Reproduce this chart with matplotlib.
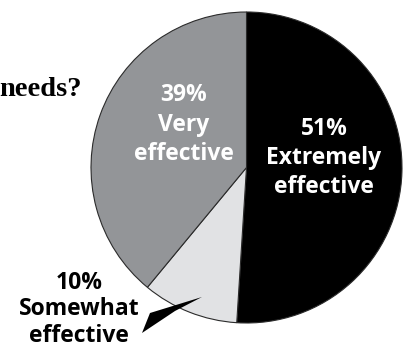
import matplotlib.pyplot as plt
from matplotlib.patches import Polygon

# pie data, clockwise from the top
labels = ["Extremely\neffective", "Somewhat\neffective", "Very\neffective"]
values = [51, 10, 39]
colors = ["#000000", "#e1e2e4", "#939598"]
text_colors = ["white", "black", "white"]

W, H = 409, 348


def px(x, y):
    # image pixel -> data coords (y up)
    return x, H - y


fig = plt.figure(figsize=(W / 100, H / 100), dpi=100)
ax = fig.add_axes([0, 0, 1, 1])

ax.pie(values, colors=colors, startangle=90, counterclock=False,
       center=px(246.5, 167.5), radius=155.5,
       wedgeprops=dict(edgecolor="#2b2b2b", linewidth=0.8))
ax.set_xlim(0, W)
ax.set_ylim(0, H)
ax.set_aspect("equal")
ax.axis("off")

# label positions: centre x and baseline of the last line, in pixels
label_pos = [(324, 193), (79, 342), (184, 160)]
spacing = [1.27, 1.15, 1.3]
font = "Open Sans"
for lab, v, c, (x, y), ls in zip(labels, values, text_colors, label_pos, spacing):
    ax.text(*px(x, y), f"{v}%\n{lab}", ha="center", va="baseline",
            color=c, fontsize=16.5, fontweight="bold", family=font,
            linespacing=ls, transform=ax.transData)

# callout pointer for the small slice
pointer = [px(202, 297), px(150, 313), px(142, 333), px(175, 311)]
ax.add_patch(Polygon(pointer, closed=True, facecolor="black", edgecolor="none"))

# cropped question text
ax.text(*px(82, 96), "needs?", ha="right", va="baseline",
        fontsize=20.5, fontweight="bold", family="Liberation Serif")

fig.savefig("out.png", dpi=100)
